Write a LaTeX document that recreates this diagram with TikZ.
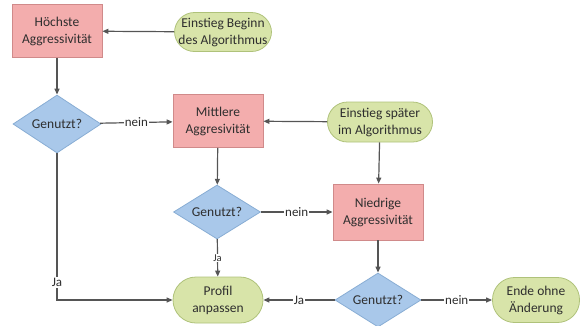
\documentclass[tikz,border=0pt]{standalone}
\usepackage{fontspec}
\setmainfont{Carlito}
\usetikzlibrary{shapes.geometric,arrows.meta}
\definecolor{boxfill}{HTML}{F3ADAD}
\definecolor{boxdraw}{HTML}{D08A8A}
\definecolor{pillfill}{HTML}{D8E4A9}
\definecolor{pilldraw}{HTML}{AFC27A}
\definecolor{diafill}{HTML}{A9C8EA}
\definecolor{diadraw}{HTML}{88ADD4}
\definecolor{txt}{HTML}{2E2E2E}
\definecolor{linec}{HTML}{555555}
\tikzset{
  every node/.style={font=\fontsize{13.5}{17}\selectfont, text=txt, align=center},
  box/.style={draw=boxdraw, fill=boxfill, line width=0.8pt, minimum width=90pt, minimum height=53pt, inner sep=0pt},
  pill/.style={draw=pilldraw, fill=pillfill, line width=0.8pt, rounded corners=20pt, minimum width=#1, minimum height=41pt, inner sep=0pt},
  dia/.style={diamond, draw=diadraw, fill=diafill, line width=0.8pt, aspect=1.5, inner sep=0pt, minimum width=88pt, minimum height=58pt},
  conn/.style={draw=linec, line width=1.2pt, -{Triangle[length=6pt,width=5pt]}},
  lbl/.style={fill=white, inner sep=1pt, font=\fontsize{13}{14}\selectfont},
  slbl/.style={fill=white, inner sep=1pt, font=\fontsize{10.5}{12}\selectfont}
}
\begin{document}
\begin{tikzpicture}[x=1pt, y=-1pt]
\useasboundingbox (0,0) rectangle (583,325);
\node[box] (h1) at (57,31) {Höchste\\Aggressivität};
\node[pill=97pt, minimum height=39pt] (s1) at (223,32) {Einstieg Beginn\\des Algorithmus};
\node[dia] (d1) at (57,124) {Genutzt?};
\node[box] (m) at (218,121) {Mittlere\\Aggresivität};
\node[pill=105pt, minimum height=40pt] (s2) at (380,122) {Einstieg später\\im Algorithmus};
\node[dia, minimum width=87pt, minimum height=54pt] (d2) at (217,212) {Genutzt?};
\node[box, minimum height=56pt] (n) at (378,212) {Niedrige\\Aggressivität};
\node[pill=90pt, minimum height=46pt, rounded corners=23pt] (p) at (218,300) {Profil\\anpassen};
\node[dia, minimum width=86pt, minimum height=54pt] (d3) at (378,300) {Genutzt?};
\node[pill=87pt, minimum height=45pt, rounded corners=22pt] (e) at (536,300) {Ende ohne\\Änderung};

\draw[conn] (s1) -- (h1);
\draw[conn] (h1) -- (d1);
\draw[conn] (d1) -- node[lbl] {nein} (m);
\draw[conn] (s2) -- (m);
\draw[conn] (s2) -- (n);
\draw[conn] (m) -- (d2);
\draw[conn] (d2) -- node[lbl] {nein} (n);
\draw[conn] (d2) -- node[slbl] {Ja} (p);
\draw[conn] (n) -- (d3);
\draw[conn] (d3) -- node[lbl] {Ja} (p);
\draw[conn] (d3) -- node[lbl] {nein} (e);
\draw[conn] (d1.south) |- node[lbl, pos=0.44] {Ja} (p.west);
\end{tikzpicture}
\end{document}
